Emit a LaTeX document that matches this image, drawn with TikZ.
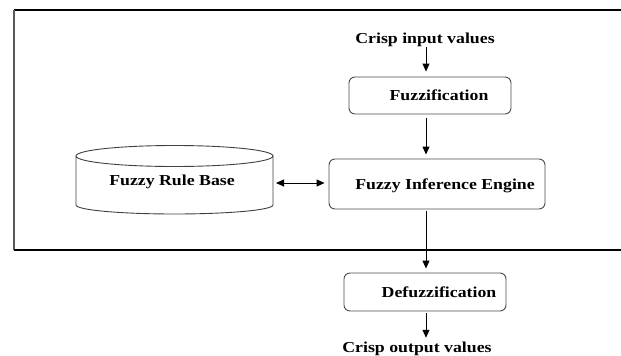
\documentclass[tikz,border=0pt]{standalone}
\usepackage{fontspec}
\setmainfont{Liberation Serif}[FakeStretch=1.17]
\usetikzlibrary{arrows.meta}
\begin{document}
\begin{tikzpicture}[x=1pt,y=-1pt,
  box/.style={draw=black!70, line width=0.9pt, rounded corners=6pt, inner sep=0pt},
  lbl/.style={font=\fontsize{15.2}{18}\selectfont\bfseries, inner sep=0pt, anchor=base},
  arr/.style={-{Triangle[length=8pt,width=7pt]}, line width=0.9pt},
  darr/.style={{Triangle[length=8pt,width=7pt]}-{Triangle[length=8pt,width=7pt]}, line width=0.9pt},
  cyl/.style={draw=black!75, line width=0.9pt}]
\useasboundingbox (0,0) rectangle (621,356);
% outer frame
\draw[line width=1.2pt] (622,10) -- (14,10);
\draw[line width=1.2pt, black!65] (14,10) -- (14,250);
\draw[line width=1.2pt] (14,250) -- (622,250);
% boxes
\node[box, minimum width=162pt, minimum height=37pt] (fz) at (430,95.5) {};
\node[lbl] (fzt) at (439,100.5) {Fuzzification};
\node[box, minimum width=216pt, minimum height=50pt] (fie) at (437,184) {};
\node[lbl] (fiet) at (445,189) {Fuzzy Inference Engine};
\node[box, minimum width=162pt, minimum height=38pt] (dfz) at (425,292) {};
\node[lbl] (dfzt) at (439,297.5) {Defuzzification};
\node[lbl] (in) at (425,43.5) {Crisp input values};
\node[lbl] (out) at (417,352.5) {Crisp output values};
% cylinder
\draw[cyl] (76,156) -- (76,205) arc[start angle=180,end angle=0,x radius=98.5,y radius=9] -- (273,156);
\draw[cyl] (174.5,156) ellipse[x radius=98.5, y radius=10.5];
\node[lbl] (rbt) at (172,185.5) {Fuzzy Rule Base};
\coordinate (rb) at (273,183);
\coordinate (xa) at (426,0);
% connectors
\draw[arr, shorten >=5pt] (in.south -| xa) -- (fz.north -| xa);
\draw[arr, shorten <=4pt, shorten >=4pt] (fz.south -| xa) -- (fie.north -| xa);
\draw[arr, shorten <=2pt, shorten >=4pt] (fie.south -| xa) -- (dfz.north -| xa);
\draw[arr, shorten <=2pt, shorten >=4pt] (dfz.south -| xa) -- (out.north -| xa);
\draw[darr, shorten <=3pt, shorten >=4pt] (rb) -- (rb -| fie.west);
\end{tikzpicture}
\end{document}
